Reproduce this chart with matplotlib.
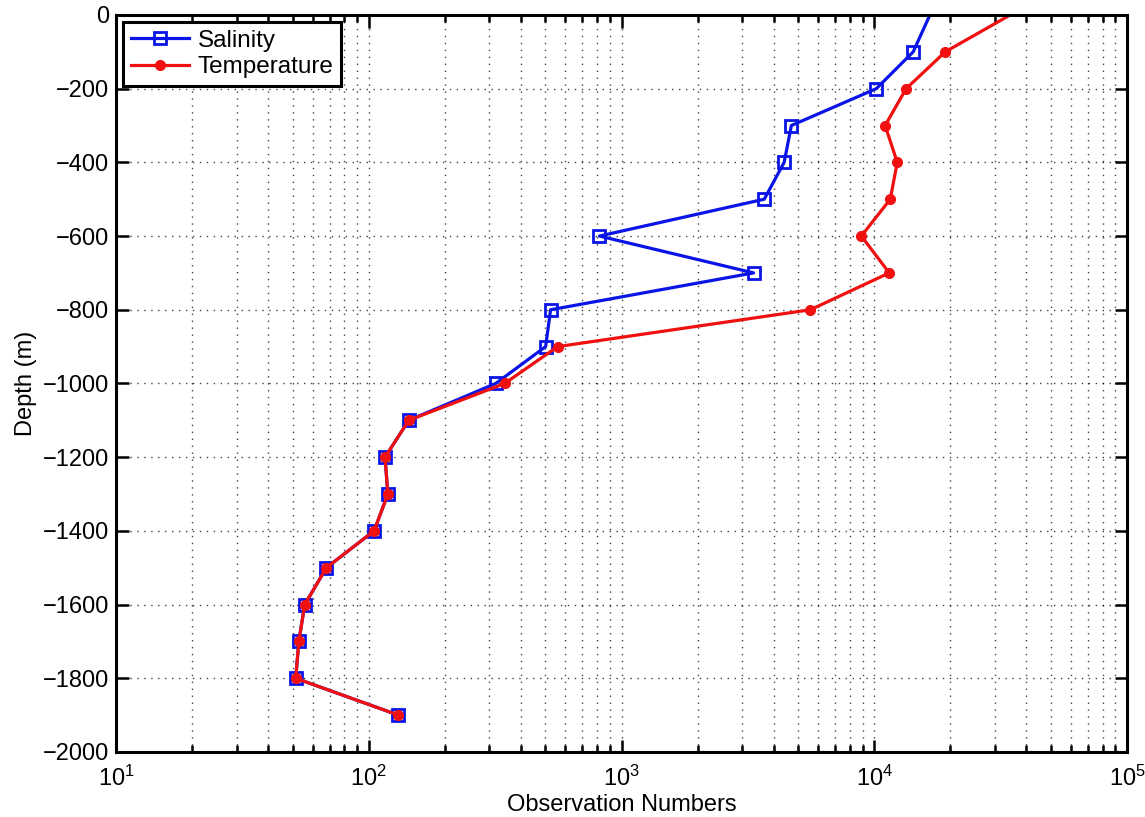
import numpy as np
import matplotlib
matplotlib.use('Agg')
import matplotlib.pyplot as plt
from matplotlib.ticker import LogLocator, MultipleLocator

plt.rcParams['font.family'] = ['Liberation Sans', 'DejaVu Sans']
plt.rcParams['mathtext.fontset'] = 'custom'
plt.rcParams['mathtext.rm'] = 'Liberation Sans'

depth = [0, -100, -200, -300, -400, -500, -600, -700, -800, -900, -1000,
         -1100, -1200, -1300, -1400, -1500, -1600, -1700, -1800, -1900]
salinity = [16600, 14260, 10190, 4700, 4400, 3670, 818, 3330, 524, 501, 318,
            144, 116, 119, 105, 68, 55.8, 52.9, 51.4, 131]
temperature = [34500, 19100, 13370, 11040, 12330, 11570, 8890, 11460, 5590, 559, 345,
               144, 116, 119, 105, 68, 55.8, 52.9, 51.4, 131]

fig = plt.figure(figsize=(11.45, 8.17), dpi=100)
ax = fig.add_axes([0.1013, 0.0796, 0.8830, 0.9021])

ax.plot(salinity, depth, '-s', color='#0a14e6', lw=2.3, ms=8.5, mfc='none', mew=2,
        markevery=slice(1, None), label='Salinity')
ax.plot(temperature, depth, '-o', color='#f01010', lw=2.3, ms=7, mfc='#f01010', mec='#f01010',
        markevery=slice(1, None), label='Temperature')

ax.set_xscale('log')
ax.set_xlim(10, 1e5)
ax.set_ylim(-2000, 0)
ax.yaxis.set_major_locator(MultipleLocator(200))
ax.xaxis.set_major_locator(LogLocator(base=10, numticks=10))
ax.xaxis.set_minor_locator(LogLocator(base=10, subs=np.arange(2, 10), numticks=20))

ax.grid(True, which='major', axis='both', color='k', linestyle=(0, (1, 4)), lw=1.0, alpha=0.75)
ax.grid(True, which='minor', axis='x', color='k', linestyle=(0, (1, 4)), lw=1.0, alpha=0.75)

ax.tick_params(which='both', direction='in', top=True, right=True, labelsize=17, width=1.8)
ax.tick_params(which='major', length=9)
ax.tick_params(which='minor', length=5)
ax.tick_params(axis='y', pad=5)
ax.tick_params(axis='x', which='both', pad=10)
for s in ax.spines.values():
    s.set_linewidth(2.2)

ax.set_xlabel('Observation Numbers', fontsize=17, labelpad=2)
ax.set_ylabel('Depth (m)', fontsize=17, labelpad=4)

leg = ax.legend(loc='upper left', fontsize=17.5, fancybox=False, framealpha=1,
                edgecolor='k', borderaxespad=0.3, handlelength=2.4, borderpad=0.3,
                labelspacing=0.2, handletextpad=0.35)
leg.get_frame().set_linewidth(2.2)

fig.savefig('out.png', dpi=100)
